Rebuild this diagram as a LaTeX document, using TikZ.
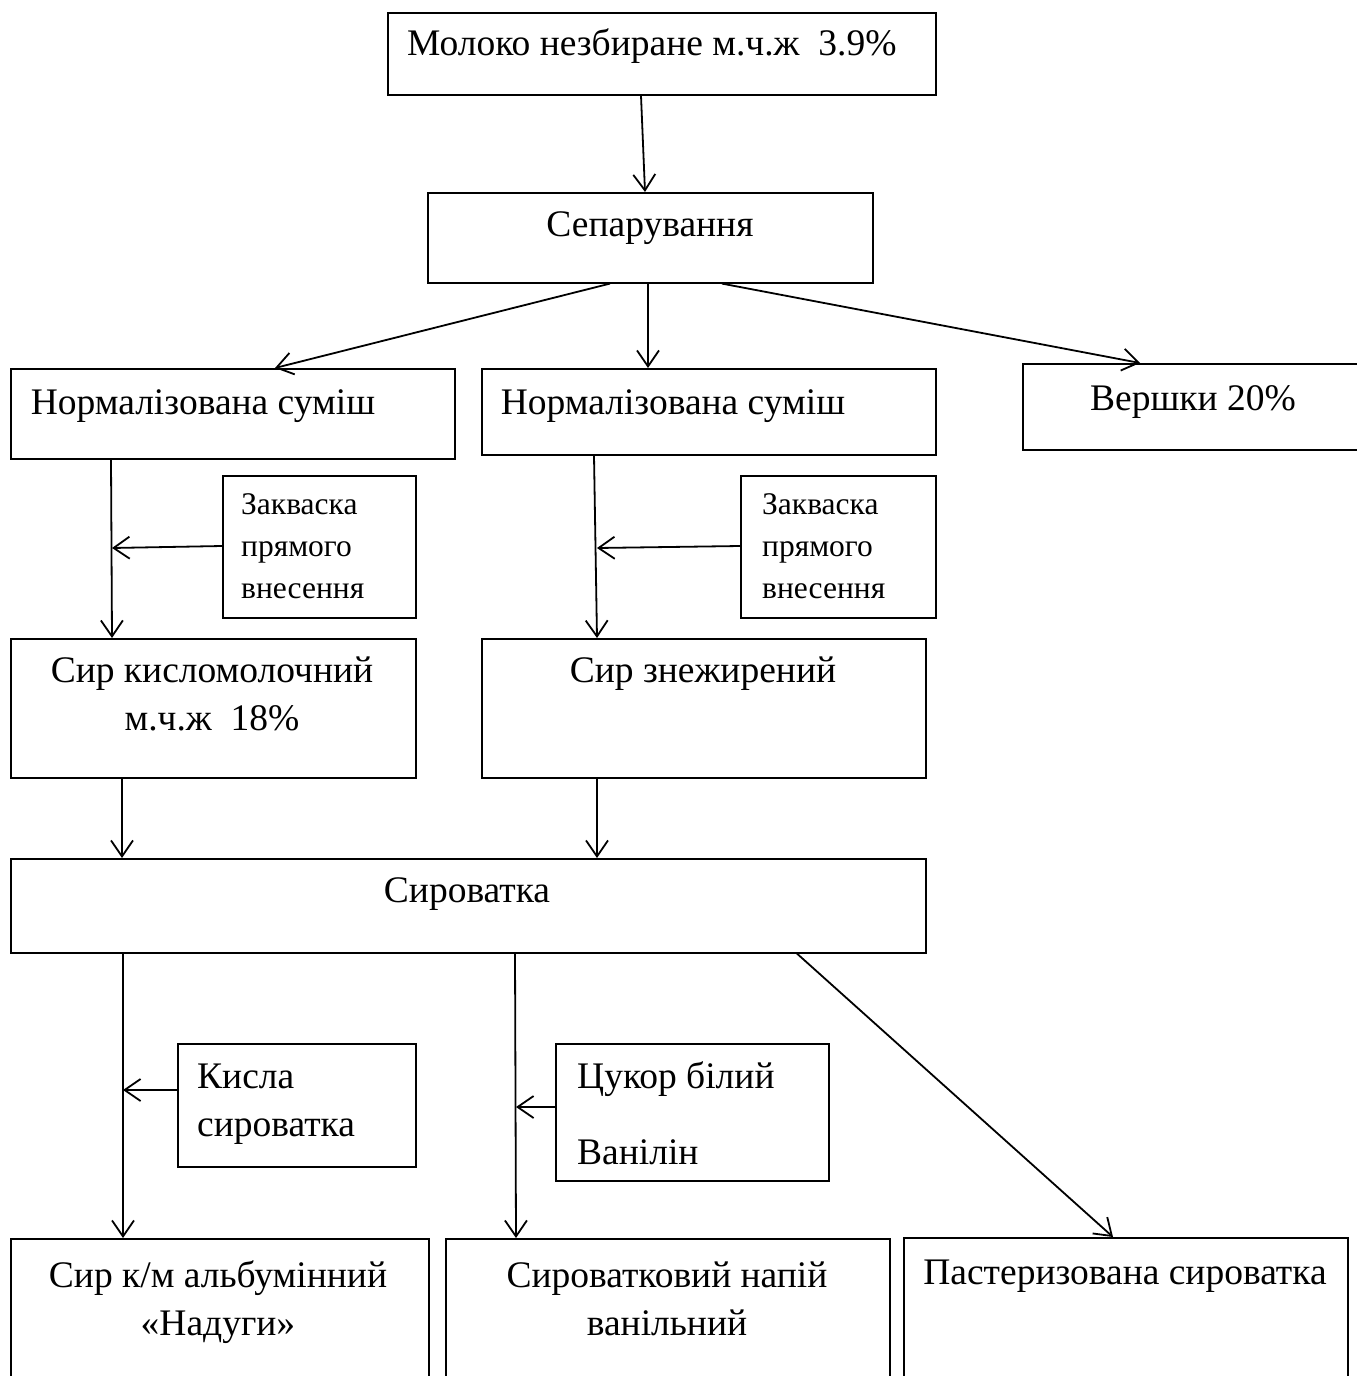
\documentclass[tikz,border=0pt]{standalone}
\usepackage{fontspec}
\setmainfont{Liberation Serif}
\usetikzlibrary{arrows.meta,calc}
\begin{document}
\begin{tikzpicture}[x=1pt,y=-1pt,
  box/.style={draw,line width=1.6pt,rectangle,inner sep=0pt,anchor=north west},
  big/.style={font=\fontsize{37.5}{49}\selectfont,inner sep=0pt},
  small/.style={font=\fontsize{31.5}{42}\selectfont,inner sep=0pt},
  arr/.style={line width=1.8pt,-{Straight Barb[length=16pt,width=22pt,line width=1.8pt]}}]
\useasboundingbox (0,0) rectangle (1357,1376);
\clip (0,0) rectangle (1357,1376);
% boxes
\node[box,minimum width=548,minimum height=82] (top) at (387,12) {};
\node[box,minimum width=445,minimum height=90] (sep) at (427,192) {};
\node[box,minimum width=444,minimum height=90] (norm1) at (10,368) {};
\node[box,minimum width=454,minimum height=86] (norm2) at (481,368) {};
\node[box,minimum width=360,minimum height=86] (ver) at (1022,363) {};
\node[box,minimum width=193,minimum height=142] (zak1) at (222,475) {};
\node[box,minimum width=195,minimum height=142] (zak2) at (740,475) {};
\node[box,minimum width=405,minimum height=139] (syr1) at (10,638) {};
\node[box,minimum width=444,minimum height=139] (syr2) at (481,638) {};
\node[box,minimum width=915,minimum height=94] (syrov) at (10,858) {};
\node[box,minimum width=238,minimum height=123] (kysla) at (177,1043) {};
\node[box,minimum width=273,minimum height=137] (tsukor) at (555,1043) {};
\node[box,minimum width=418,minimum height=170] (b1) at (10,1238) {};
\node[box,minimum width=444,minimum height=170] (b2) at (445,1238) {};
\node[box,minimum width=444,minimum height=170] (b3) at (903,1237) {};
% texts
\node[big,anchor=base west] (ttop) at (407,55) {Молоко незбиране м.ч.ж\ \ 3.9\%};
\node[big,anchor=base] (tsep) at (650,236) {Сепарування};
\node[big,anchor=base] (tnorm1) at (203,414) {Нормалізована суміш};
\node[big,anchor=base] (tnorm2) at (673,414) {Нормалізована суміш};
\node[big,anchor=base] (tver) at (1193,410) {Вершки 20\%};
\node[small,anchor=base west] (tzak1a) at (241,514) {Закваска};
\node[small,anchor=base west] (tzak1b) at (241,556) {прямого};
\node[small,anchor=base west] (tzak1c) at (241,598) {внесення};
\node[small,anchor=base west] (tzak2a) at (762,514) {Закваска};
\node[small,anchor=base west] (tzak2b) at (762,556) {прямого};
\node[small,anchor=base west] (tzak2c) at (762,598) {внесення};
\node[big,anchor=base] (tsyr1a) at (212,682) {Сир кисломолочний};
\node[big,anchor=base] (tsyr1b) at (212,730) {м.ч.ж\ \ 18\%};
\node[big,anchor=base] (tsyr2) at (703,682) {Сир знежирений};
\node[big,anchor=base] (tsyrov) at (467,902) {Сироватка};
\node[big,anchor=base west] (tkysa) at (197,1088) {Кисла};
\node[big,anchor=base west] (tkysb) at (197,1136) {сироватка};
\node[big,anchor=base west] (ttsa) at (577,1088) {Цукор білий};
\node[big,anchor=base west] (ttsb) at (577,1164) {Ванілін};
\node[big,anchor=base] (tb1a) at (218,1287) {Сир к/м альбумінний};
\node[big,anchor=base] (tb1b) at (218,1335) {«Надуги»};
\node[big,anchor=base] (tb2a) at (667,1287) {Сироватковий напій};
\node[big,anchor=base] (tb2b) at (667,1335) {ванільний};
\node[big,anchor=base] (tb3) at (1125,1284) {Пастеризована сироватка};
% arrows
\draw[arr] ($(top.south west)+(254,0)$) -- ($(sep.north west)+(218,0)$);
\draw[arr] ($(sep.south west)+(183,0)$) -- ($(norm1.north west)+(265,0)$);
\draw[arr] ($(sep.south west)+(221,0)$) -- ($(norm2.north west)+(167,0)$);
\draw[arr] ($(sep.south west)+(295,0)$) -- ($(ver.north west)+(118,0)$);
\draw[arr] ($(norm1.south west)+(101,0)$) -- ($(syr1.north west)+(102,0)$);
\draw[arr] ($(zak1.north west)+(0,71)$) -- ($(syr1.north west)+(102,-90)$);
\draw[arr] ($(norm2.south west)+(113,0)$) -- ($(syr2.north west)+(116,0)$);
\draw[arr] ($(zak2.north west)+(0,71)$) -- ($(syr2.north west)+(116,-90)$);
\draw[arr] ($(syr1.south west)+(112,0)$) -- ($(syrov.north west)+(112,0)$);
\draw[arr] ($(syr2.south west)+(116,0)$) -- ($(syrov.north west)+(587,0)$);
\draw[arr] ($(syrov.south west)+(113,0)$) -- ($(b1.north west)+(113,0)$);
\draw[arr] ($(kysla.north west)+(0,47)$) -- ($(b1.north west)+(113,-148)$);
\draw[arr] ($(syrov.south west)+(505,0)$) -- ($(b2.north west)+(71,0)$);
\draw[arr] ($(tsukor.north west)+(0,64)$) -- ($(b2.north west)+(71,-131)$);
\draw[arr] ($(syrov.south west)+(787,0)$) -- ($(b3.north west)+(210,0)$);
\end{tikzpicture}
\end{document}
